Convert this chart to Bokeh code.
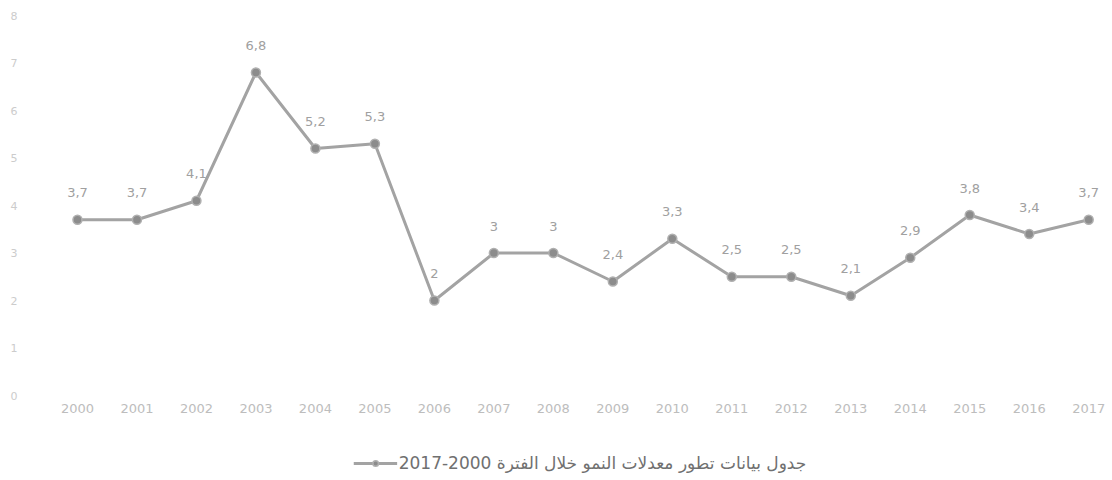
from bokeh.plotting import figure
from bokeh.layouts import column
from bokeh.models import ColumnDataSource, Range1d, FixedTicker, LabelSet, Legend, LegendItem
from bokeh.core.properties import value
from bokeh.embed import file_html
from bokeh.resources import INLINE

# Annual growth rate, 2000-2017
years = [2000, 2001, 2002, 2003, 2004, 2005, 2006, 2007, 2008,
         2009, 2010, 2011, 2012, 2013, 2014, 2015, 2016, 2017]
rates = [3.7, 3.7, 4.1, 6.8, 5.2, 5.3, 2.0, 3.0, 3.0,
         2.4, 3.3, 2.5, 2.5, 2.1, 2.9, 3.8, 3.4, 3.7]
y_ticks = [0, 1, 2, 3, 4, 5, 6, 7, 8]
series_name = "2017-2000 جدول بيانات تطور معدلات النمو خلال الفترة"


def fmt(v):
    # comma as the decimal separator, no trailing ",0"
    s = ("%g" % v)
    return s.replace(".", ",")


source = ColumnDataSource(dict(
    year=years,
    rate=rates,
    label=[fmt(v) for v in rates],
))

FONT = "DejaVu Sans"
LINE_STYLE = dict(line_color="#a3a3a3", line_width=3)
DOT_STYLE = dict(size=9, fill_color="#8c8c8c", line_color="#b0b0b0", line_width=1.5)

p = figure(
    width=1112, height=445,
    x_range=Range1d(1999.496, 2017.40),
    y_range=Range1d(0, 8),
    output_backend="svg",
    toolbar_location=None,
    min_border_left=47, min_border_right=0, min_border_top=15,
    min_border_bottom=50,
)
p.outline_line_color = None
p.grid.grid_line_color = None
p.background_fill_color = "white"
p.border_fill_color = "white"

p.line("year", "rate", source=source, **LINE_STYLE)
p.scatter("year", "rate", source=source, **DOT_STYLE)

labels = LabelSet(x="year", y="rate", text="label", source=source,
                  y_offset=27, text_align="center", text_baseline="middle",
                  text_font=value(FONT), text_font_size=value("13px"),
                  text_color=value("#a0a0a0"))
p.add_layout(labels)

# x axis: year labels only
xa = p.xaxis[0]
xa.ticker = FixedTicker(ticks=years)
xa.major_label_overrides = {y: str(y) for y in years}
xa.axis_line_color = None
xa.major_tick_line_color = None
xa.minor_tick_line_color = None
xa.major_tick_out = 0
xa.major_label_standoff = 8
xa.major_label_text_font = FONT
xa.major_label_text_font_size = "13px"
xa.major_label_text_color = "#bdbdbd"

# y axis: faint 0..8 labels at the far left
ya = p.yaxis[0]
ya.ticker = FixedTicker(ticks=y_ticks)
ya.axis_line_color = None
ya.major_tick_line_color = None
ya.minor_tick_line_color = None
ya.major_tick_out = 0
ya.major_label_standoff = 30
ya.major_label_text_font = FONT
ya.major_label_text_font_size = "11px"
ya.major_label_text_color = "#cccccc"

# series key in a strip under the chart; its glyphs sit off-range so only
# their legend swatches show
key = figure(
    width=1112, height=35,
    x_range=Range1d(0, 1), y_range=Range1d(0, 1),
    output_backend="svg", toolbar_location=None,
    x_axis_location=None, y_axis_location=None,
    min_border_left=47, min_border_right=0, min_border_top=0, min_border_bottom=0,
)
key.outline_line_color = None
key.grid.grid_line_color = None
offscreen = ColumnDataSource(dict(year=[-5, -4], rate=[-5, -5]))
k_line = key.line("year", "rate", source=offscreen, **LINE_STYLE)
k_dot = key.scatter("year", "rate", source=offscreen, **DOT_STYLE)
legend = Legend(items=[LegendItem(label=series_name, renderers=[k_line, k_dot])],
                location="center", orientation="horizontal",
                glyph_width=44, glyph_height=14,
                label_text_font=FONT, label_text_font_size="17px",
                label_text_color="#707070", label_standoff=2,
                margin=0, padding=4, border_line_color=None,
                background_fill_alpha=0)
key.add_layout(legend)

layout = column(p, key, spacing=0)
open("out.html", "w").write(file_html(layout, INLINE))
